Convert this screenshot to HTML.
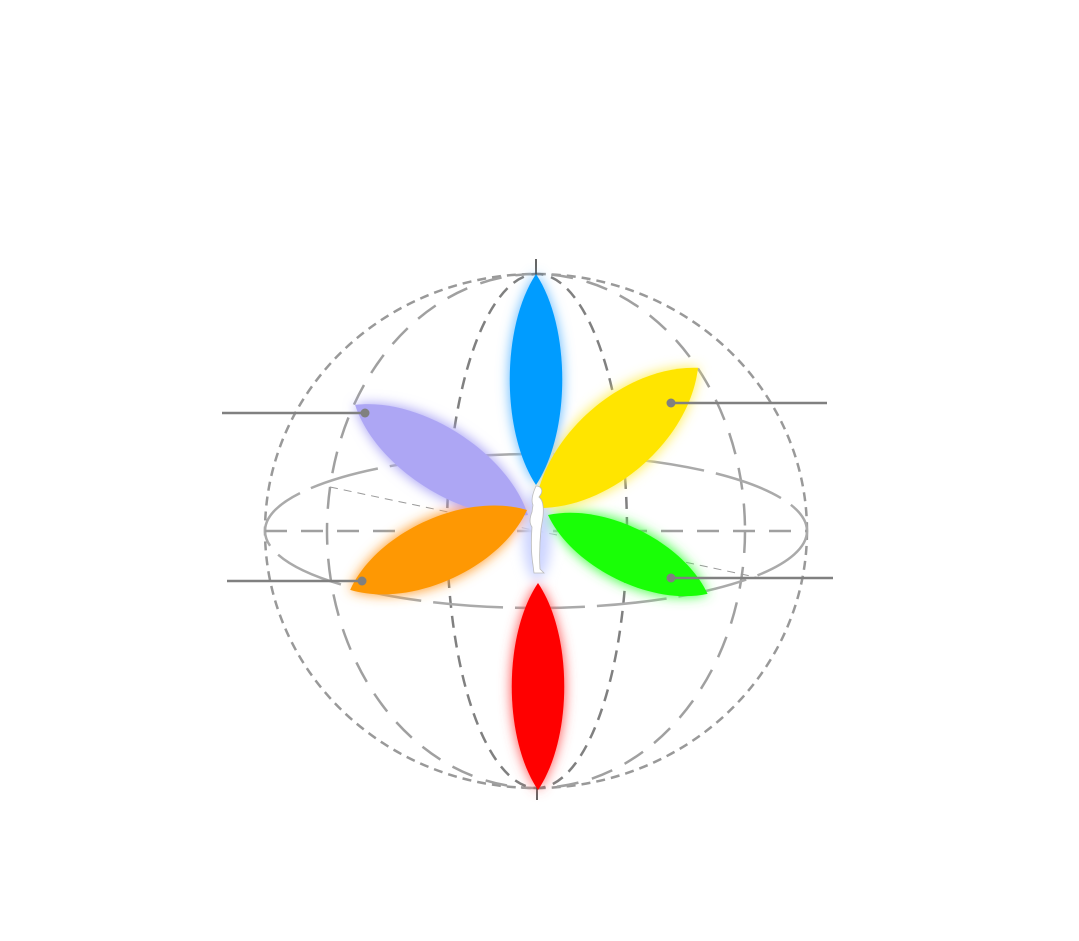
<!DOCTYPE html>
<html><head><meta charset="utf-8"><style>html,body{margin:0;padding:0;background:#fff}svg{display:block}</style></head>
<body>
<svg width="1079" height="941" viewBox="0 0 1079 941" xmlns="http://www.w3.org/2000/svg">
<defs>
<filter id="g" x="-50%" y="-50%" width="200%" height="200%"><feGaussianBlur stdDeviation="6"/></filter>
</defs>
<g fill="none" stroke="#999" stroke-width="2.5">
<ellipse cx="536" cy="531" rx="271" ry="257" stroke-dasharray="9 6"/>
<ellipse cx="536" cy="531" rx="209" ry="257" stroke-dasharray="22 14" stroke="#a0a0a0"/>
<ellipse cx="537" cy="531" rx="90" ry="257" stroke-dasharray="12 8" stroke="#808080"/>
<ellipse cx="536" cy="531" rx="271" ry="77" stroke-dasharray="70 12" stroke="#aaa"/>
<line x1="265" y1="531" x2="807" y2="531" stroke-dasharray="22 14" stroke="#a0a0a0"/>
<line x1="330" y1="487" x2="760" y2="578" stroke-dasharray="8 6" stroke-width="1" stroke="#999"/>
</g>
<g stroke="#333" stroke-width="1.5">
<line x1="536" y1="259" x2="536" y2="275"/>
<line x1="537" y1="787" x2="537" y2="800"/>
</g>
<!-- glows -->
<g filter="url(#g)">
<path transform="translate(536,485) rotate(-90)" d="M0,0 C53,-36 158,-36 211,0 C158,36 53,36 0,0Z" fill="#66bbff"/>
<path transform="translate(538,583) rotate(90)" d="M0,0 C52,-36 155,-36 207,0 C155,36 52,36 0,0Z" fill="#ff5555"/>
<path transform="translate(535,508) rotate(-40.7)" d="M0,0 C54,-52 161,-52 215,0 C161,52 54,52 0,0Z" fill="#ffee55"/>
<path transform="translate(528,515) rotate(-147.5)" d="M0,0 C51,-44 154,-44 205,0 C154,44 51,44 0,0Z" fill="#a9a3f5"/>
<path transform="translate(527,510) rotate(155.7)" d="M0,0 C48,-44 146,-44 194,0 C146,44 48,44 0,0Z" fill="#ffa033"/>
<path transform="translate(548,515) rotate(26.3)" d="M0,0 C45,-38 133,-38 178,0 C133,38 45,38 0,0Z" fill="#44ff44"/>
<ellipse cx="537" cy="535" rx="14" ry="45" fill="#ccd4ff"/>
</g>
<path transform="translate(536,485) rotate(-90)" d="M0,0 C53,-35 158,-35 211,0 C158,35 53,35 0,0Z" fill="#009cff"/>
<path transform="translate(538,583) rotate(90)" d="M0,0 C52,-35 155,-35 207,0 C155,35 52,35 0,0Z" fill="#ff0000"/>
<path transform="translate(535,508) rotate(-40.7)" d="M0,0 C54,-50 161,-50 215,0 C161,50 54,50 0,0Z" fill="#ffe500"/>
<path transform="translate(528,515) rotate(-147.5)" d="M0,0 C51,-42 154,-42 205,0 C154,42 51,42 0,0Z" fill="#ada6f4"/>
<path transform="translate(527,510) rotate(155.7)" d="M0,0 C48,-42 146,-42 194,0 C146,42 48,42 0,0Z" fill="#fe9803"/>
<path transform="translate(548,515) rotate(26.3)" d="M0,0 C45,-36 133,-36 178,0 C133,36 45,36 0,0Z" fill="#19ff06"/>
<!-- figure -->
<path d="M536,486 c5,0 7,4 5,8 l-2,3 c4,3 5,10 4,20 l-2,12 c-1,10 -2,22 -1,40 l4,4 h-10 l-1,-8 c-2,-12 -2,-25 -1,-38 c-3,-4 -2,-10 0,-15 l1,-7 c-2,-4 -1,-10 3,-19z" fill="#fff" stroke="#bbb" stroke-width="0.8"/>
<!-- callouts -->
<g stroke="#808080" stroke-width="2.5">
<line x1="222" y1="413" x2="365" y2="413"/>
<line x1="671" y1="403" x2="827" y2="403"/>
<line x1="227" y1="581" x2="362" y2="581"/>
<line x1="671" y1="578" x2="833" y2="578"/>
</g>
<g fill="#808080">
<circle cx="365" cy="413" r="4.5"/><circle cx="671" cy="403" r="4.5"/>
<circle cx="362" cy="581" r="4.5"/><circle cx="671" cy="578" r="4.5"/>
</g>
</svg>
</body></html>
